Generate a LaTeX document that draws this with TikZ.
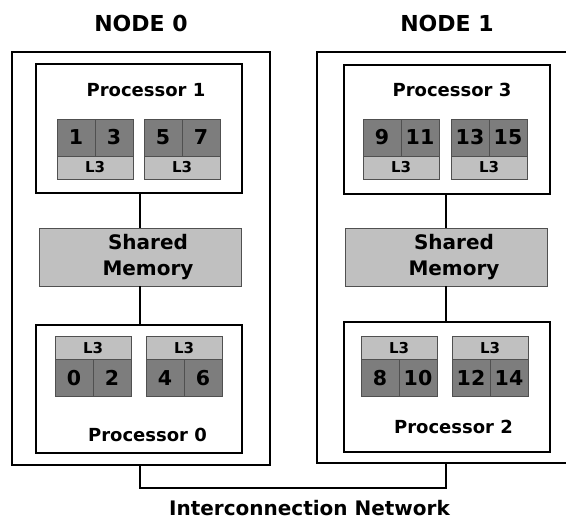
\documentclass[tikz,border=0pt]{standalone}
\usepackage{fontspec}
\setmainfont{DejaVu Sans}
\usepackage{tikz}
\usetikzlibrary{positioning}
\definecolor{coregray}{RGB}{125,125,125}
\definecolor{cachegray}{RGB}{192,192,192}
\definecolor{edgegray}{RGB}{80,80,80}
\tikzstyle{nodebox}  = [draw, line width=2pt, inner sep=0pt, outer sep=0pt]
\tikzstyle{procbox}  = [draw, line width=2pt, fill=white, inner sep=0pt, outer sep=0pt, minimum width=206pt]
\tikzstyle{membox}   = [draw=edgegray, line width=0.8pt, fill=cachegray, inner sep=0pt, outer sep=0pt, minimum width=202pt, minimum height=58pt]
\tikzstyle{core}     = [draw=edgegray, line width=0.8pt, fill=coregray, inner sep=0pt, outer sep=0pt, minimum width=38pt, minimum height=37pt, font=\fontsize{20.5}{24}\selectfont\bfseries]
\tikzstyle{cache}    = [draw=edgegray, line width=0.8pt, fill=cachegray, inner sep=0pt, outer sep=0pt, minimum width=76pt, minimum height=23pt, font=\fontsize{15}{17}\selectfont\bfseries]
\tikzstyle{title}    = [inner sep=0pt, font=\fontsize{22}{26}\selectfont\bfseries]
\tikzstyle{proclabel}= [inner sep=0pt, font=\fontsize{18}{22}\selectfont\bfseries]
\tikzstyle{memtext}  = [inner sep=0pt, align=center, font=\fontsize{20}{26}\selectfont\bfseries]
\tikzstyle{link}     = [line width=2pt]

\begin{document}
\begin{tikzpicture}[x=1pt, y=-1pt]
  \useasboundingbox (0,0) rectangle (566,520);

  %the two nodes
  \node[nodebox, minimum width=258pt, minimum height=413pt] (n0) at (141,258.5) {};
  \node[nodebox, minimum width=251pt, minimum height=411pt] (n1) at (442.5,257.5) {};
  \node[title] (n0t) at (141,23) {NODE 0};
  \node[title] (n1t) at (447,23) {NODE 1};

  %processors and memories
  \node[procbox, minimum height=129pt] (p1) at (139,128.5) {};
  \node[procbox, minimum height=129pt] (p3) at (447,129.5) {};
  \node[procbox, minimum height=128pt] (p0) at (139,389) {};
  \node[procbox, minimum height=130pt] (p2) at (447,387) {};
  \node[membox] (m0) at (140,257) {};
  \node[membox] (m1) at (446,257) {};
  \node[memtext] (m0t) at ([xshift=8pt]m0.center) {Shared\\Memory};
  \node[memtext] (m1t) at ([xshift=8pt]m1.center) {Shared\\Memory};

  \node[proclabel] (p1t) at (146,90) {Processor 1};
  \node[proclabel] (p3t) at (452,90) {Processor 3};
  \node[proclabel] (p0t) at (147.5,435) {Processor 0};
  \node[proclabel] (p2t) at (453.5,427) {Processor 2};

  %cores with the cache below
  \foreach \x/\a/\b/\n in {57/1/3/c1a, 144/5/7/c1b, 363/9/11/c3a, 451/13/15/c3b}{
    \node[core] (\n-l) at (\x+19,137.5) {\a};
    \node[core, right=0pt of \n-l] (\n-r) {\b};
    \node[cache, below=0pt of \n-l.south east] (\n-c) {L3};
  }

  %cores with the cache above
  \foreach \x/\a/\b/\n in {55/0/2/c0a, 146/4/6/c0b, 361/8/10/c2a, 452/12/14/c2b}{
    \node[cache] (\n-c) at (\x+38,348) {L3};
    \node[core, below right=0pt and 0pt of \n-c.south west] (\n-l) {\a};
    \node[core, right=0pt of \n-l] (\n-r) {\b};
  }

  \draw[link] (p1.south -| m0.north) -- (m0.north);
  \draw[link] (m0.south) -- (m0.south |- p0.north);
  \draw[link] (p3.south -| m1.north) -- (m1.north);
  \draw[link] (m1.south) -- (m1.south |- p2.north);

  %interconnection network
  \coordinate (b0) at (140,488);
  \coordinate (b1) at (446,488);
  \draw[link] (n0.south -| b0) -- (b0) -- (b1) -- (n1.south -| b1);
  \node[inner sep=0pt, font=\fontsize{20}{24}\selectfont\bfseries] (net) at (309.5,508.5) {Interconnection Network};
\end{tikzpicture}
\end{document}
